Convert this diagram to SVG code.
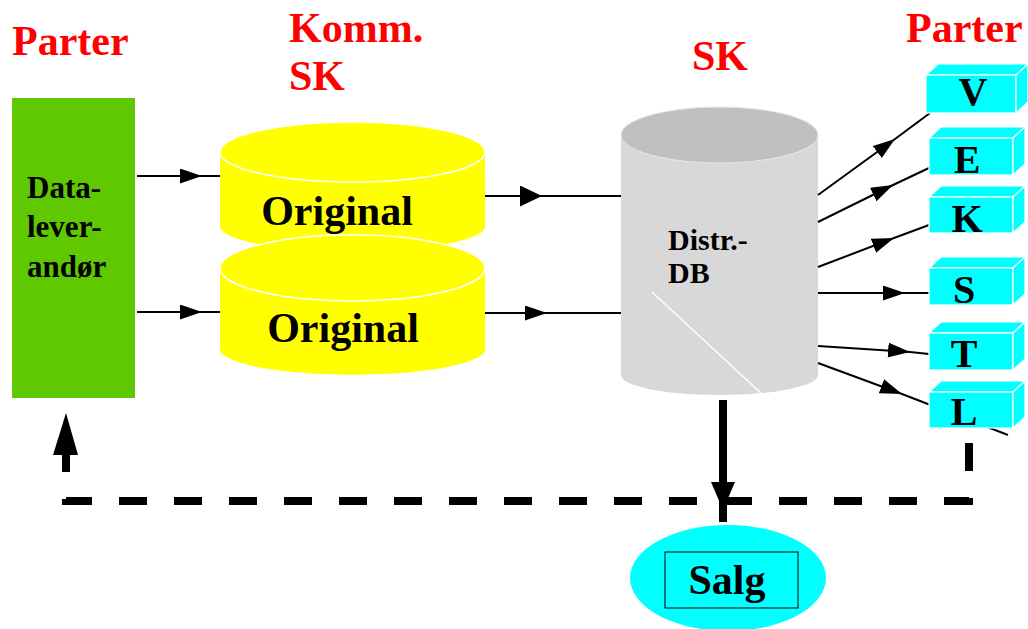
<svg xmlns="http://www.w3.org/2000/svg" width="1028" height="629" viewBox="0 0 1028 629">
<style>
.title{font-family:"Liberation Serif",serif;font-weight:bold;font-size:42px;fill:#ff0000}
.lbl{font-family:"Liberation Serif",serif;font-weight:bold;fill:#000}
.thin{stroke:#000;stroke-width:2;fill:none}
.box{fill:#00ffff;stroke:#ffffff;stroke-width:1.2}
.yel{fill:#ffff00}
</style>
<defs>
<marker id="ah" viewBox="0 0 10 10" refX="10" refY="5" markerWidth="22" markerHeight="15" markerUnits="userSpaceOnUse" orient="auto" preserveAspectRatio="none">
<path d="M0,0 L10,5 L0,10 z" fill="#000"/>
</marker>
<marker id="ahb" viewBox="0 0 10 10" refX="10" refY="5" markerWidth="22" markerHeight="21" markerUnits="userSpaceOnUse" orient="auto" preserveAspectRatio="none">
<path d="M0,0 L10,5 L0,10 z" fill="#000"/>
</marker>
</defs>
<rect width="1028" height="629" fill="#fff"/>

<g id="titles">
<text class="title" x="12" y="55">Parter</text>
<text class="title" x="289" y="42">Komm.</text>
<text class="title" x="289" y="90">SK</text>
<text class="title" x="692" y="70">SK</text>
<text class="title" x="906" y="42">Parter</text>
</g>

<g id="dataleverandor">
<rect x="12" y="98" width="123" height="300" fill="#5fc800"/>
<text class="lbl" font-size="31" x="27" y="198">Data-</text>
<text class="lbl" font-size="31" x="27" y="237">lever-</text>
<text class="lbl" font-size="31" x="27" y="277">andør</text>
</g>

<g id="original1">
<path class="yel" d="M220,152 L220,228 A133,26 0 0 0 485,228 L485,152 Z"/>
<ellipse class="yel" cx="352.5" cy="152" rx="132.5" ry="30" stroke="#fff" stroke-width="1.5"/>
<text class="lbl" font-size="42" x="337" y="225" text-anchor="middle">Original</text>
</g>
<g id="original2">
<path class="yel" d="M220,268 L220,351 A133,26 0 0 0 485,351 L485,268 Z"/>
<ellipse class="yel" cx="352.5" cy="268" rx="132.5" ry="33" stroke="#fff" stroke-width="1.5"/>
<text class="lbl" font-size="42" x="343" y="342" text-anchor="middle">Original</text>
</g>

<g id="distrdb">
<path d="M621,135 L621,375 A98.5,20 0 0 0 818,375 L818,135 Z" fill="#d8d8d8"/>
<ellipse cx="719.5" cy="135" rx="98.5" ry="28" fill="#c0c0c0" stroke="#e8e8e8" stroke-width="1"/>
<line x1="652" y1="292" x2="763" y2="395" stroke="#fff" stroke-width="1.5"/>
<text class="lbl" font-size="30" x="668" y="250">Distr.-</text>
<text class="lbl" font-size="30" x="668" y="283">DB</text>
</g>

<g id="connectors">
<path class="thin" d="M137,176 L202,176 L220,176" marker-mid="url(#ah)"/>
<path class="thin" d="M137,312 L202,312 L220,312" marker-mid="url(#ah)"/>
<path class="thin" d="M485,196 L542,196 L621,196" marker-mid="url(#ahb)"/>
<path class="thin" d="M485,313 L547,313 L621,313" marker-mid="url(#ah)"/>
<path class="thin" d="M818,195 L895,139 L930,113" marker-mid="url(#ah)"/>
<path class="thin" d="M818,222 L893,185 L929,168" marker-mid="url(#ah)"/>
<path class="thin" d="M818,267 L894,238 L929,225" marker-mid="url(#ah)"/>
<path class="thin" d="M818,293 L905,293 L929,293" marker-mid="url(#ah)"/>
<path class="thin" d="M818,346 L910,352 L929,354" marker-mid="url(#ah)"/>
<path class="thin" d="M818,363 L902,394 L1008,435" marker-mid="url(#ah)"/>
<line x1="723" y1="400" x2="723" y2="522" stroke="#000" stroke-width="8"/>
<polygon points="711,482 735,482 723,510" fill="#000"/>
<path d="M969,443 L969,501 L66,501 L66,452" fill="none" stroke="#000" stroke-width="8" stroke-dasharray="28 27"/>
<polygon points="53,455 78,455 66,413" fill="#000"/>
</g>

<g id="party-V">
<polygon class="box" points="926,75 938,64 1028,64 1016,75"/>
<rect class="box" x="926" y="75" width="90" height="38"/>
<polygon class="box" points="1016,75 1028,64 1028,102 1016,113"/>
<text class="lbl" font-size="40" x="973" y="105" text-anchor="middle">V</text>
</g>
<g id="party-E">
<polygon class="box" points="929,138 941,127 1025,127 1013,138"/>
<rect class="box" x="929" y="138" width="84" height="37"/>
<polygon class="box" points="1013,138 1025,127 1025,164 1013,175"/>
<text class="lbl" font-size="40" x="967" y="173" text-anchor="middle">E</text>
</g>
<g id="party-K">
<polygon class="box" points="929,197 941,186 1025,186 1013,197"/>
<rect class="box" x="929" y="197" width="84" height="36"/>
<polygon class="box" points="1013,197 1025,186 1025,222 1013,233"/>
<text class="lbl" font-size="40" x="967" y="232" text-anchor="middle">K</text>
</g>
<g id="party-S">
<polygon class="box" points="929,268 941,257 1025,257 1013,268"/>
<rect class="box" x="929" y="268" width="84" height="37"/>
<polygon class="box" points="1013,268 1025,257 1025,294 1013,305"/>
<text class="lbl" font-size="40" x="964" y="303" text-anchor="middle">S</text>
</g>
<g id="party-T">
<polygon class="box" points="929,333 941,322 1025,322 1013,333"/>
<rect class="box" x="929" y="333" width="84" height="37"/>
<polygon class="box" points="1013,333 1025,322 1025,359 1013,370"/>
<text class="lbl" font-size="40" x="964" y="367" text-anchor="middle">T</text>
</g>
<g id="party-L">
<polygon class="box" points="929,392 941,381 1025,381 1013,392"/>
<rect class="box" x="929" y="392" width="84" height="36"/>
<polygon class="box" points="1013,392 1025,381 1025,417 1013,428"/>
<text class="lbl" font-size="40" x="964" y="425" text-anchor="middle">L</text>
</g>

<g id="salg">
<ellipse cx="728" cy="578" rx="98" ry="53" fill="#00ffff"/>
<rect x="665" y="552" width="133" height="56" fill="#00ffff" stroke="#000" stroke-width="1"/>
<text class="lbl" font-size="42" x="727" y="594" text-anchor="middle">Salg</text>
</g>
</svg>
